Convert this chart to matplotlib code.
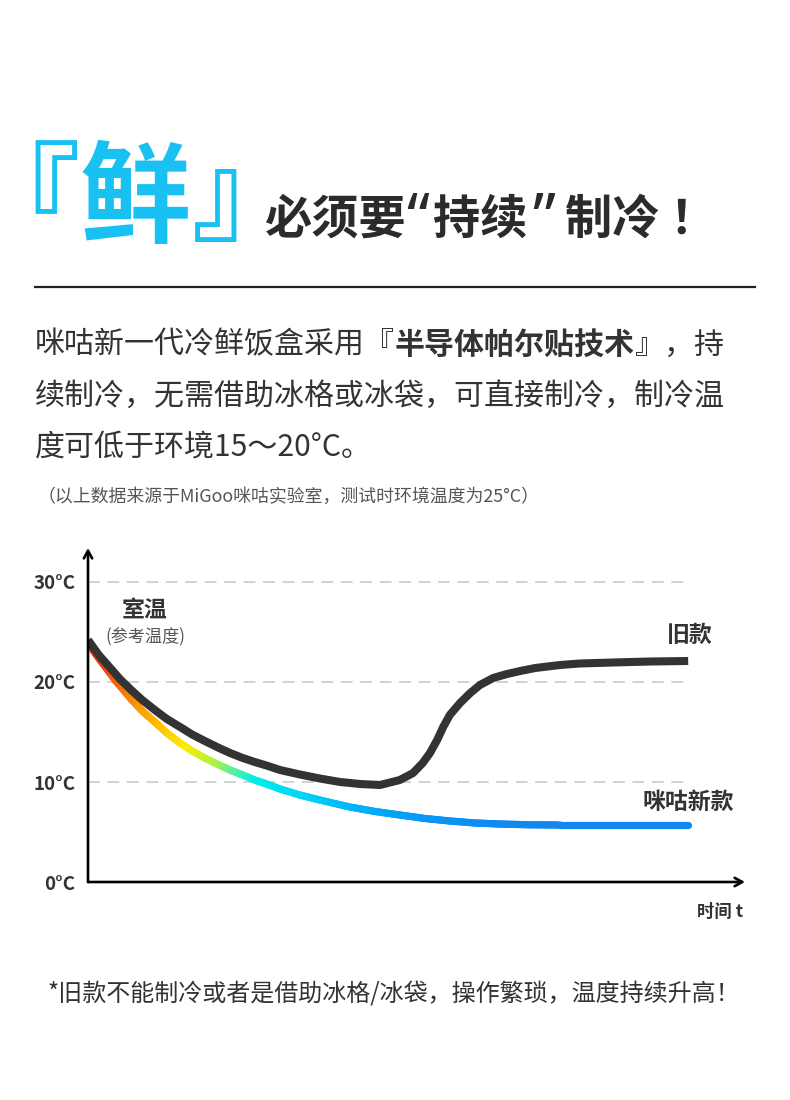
import numpy as np
import matplotlib
matplotlib.use("Agg")
import matplotlib.pyplot as plt
from matplotlib.collections import LineCollection
from matplotlib.colors import LinearSegmentedColormap, Normalize

plt.rcParams['font.family'] = ['Noto Sans CJK SC', 'DejaVu Sans']
plt.rcParams['lines.scale_dashes'] = False

# data (time in arbitrary units, temperature in °C)
time_old = [0, 1.8, 3.7, 5.3, 7.0, 9.0, 11.1, 13.1, 15.3, 17.3, 19.4, 21.6, 23.6, 25.7,
            27.7, 29.9, 31.9, 35.2, 38.5, 41.9, 45.2, 48.5, 51.8, 54.0, 55.6, 56.8,
            58.0, 59.0, 60.1, 61.8, 63.5, 65.1, 67.3, 69.6, 71.8, 74.3, 78.4, 81.7,
            87.2, 93.4, 99.7]
temp_old = [24.2, 22.7, 21.4, 20.3, 19.3, 18.2, 17.2, 16.3, 15.5, 14.75, 14.1, 13.45, 12.9, 12.4,
            12.0, 11.6, 11.2, 10.75, 10.35, 10.0, 9.8, 9.7, 10.2, 10.9, 11.9, 12.9,
            14.2, 15.5, 16.7, 17.9, 18.9, 19.7, 20.4, 20.8, 21.1, 21.4, 21.7, 21.85,
            21.95, 22.05, 22.1]

time_new = [0, 2.0, 4.5, 7.0, 9.0, 11.1, 13.1, 15.3, 17.3, 19.4, 21.6, 23.6, 25.7, 27.7,
            29.9, 31.9, 35.2, 38.5, 43.5, 47.7, 51.8, 56.0, 60.1, 64.3, 68.4, 73.4,
            78.4, 99.7]
temp_new = [23.9, 22.2, 20.2, 18.4, 17.1, 16.0, 14.9, 13.9, 13.1, 12.4, 11.75, 11.2, 10.7, 10.2,
            9.75, 9.3, 8.7, 8.2, 7.5, 7.05, 6.7, 6.35, 6.1, 5.9, 5.8, 5.72,
            5.7, 5.7]

ytick_vals = [0, 10, 20, 30]
ytick_labels = ['0°C', '10°C', '20°C', '30°C']
grid_vals = [10, 20, 30]

W, H = 790, 1100
fig = plt.figure(figsize=(W / 100, H / 100), dpi=100)
fig.patch.set_facecolor('white')


def px(x, y):
    return x / W, 1 - y / H


# ---- header ----
cyan = '#19c1f3'
fig.text(*px(24, 203), '『', fontsize=80, fontweight='bold', color=cyan, ha='center', va='center')
fig.text(*px(135, 202), '鲜', fontsize=80, fontweight='bold', color=cyan, ha='center', va='center')
fig.text(*px(247, 200), '』', fontsize=80, fontweight='bold', color=cyan, ha='center', va='center')

# title in pieces so the curly quotes get the narrow spacing of the original
title_kw = dict(fontweight='bold', color='#2b2b2b', va='center', ha='left')
latin = ['Noto Sans', 'DejaVu Sans']
fig.text(*px(265, 220), '必须要', fontsize=34, **title_kw)
fig.text(*px(406, 222), '“', fontsize=46, family=latin, **title_kw)
fig.text(*px(433, 220), '持续', fontsize=34, **title_kw)
fig.text(*px(532, 222), '”', fontsize=46, family=latin, **title_kw)
fig.text(*px(565, 220), '制冷', fontsize=34, **title_kw)
fig.text(*px(669, 220), '！', fontsize=34, **title_kw)
fig.add_artist(plt.Line2D([35 / W, 755 / W], [1 - 287 / H] * 2, color='#222222', lw=1.6))

# ---- paragraph ----
fs_px = 30
fs = fs_px * 0.72
x0 = 35
txt = '#333333'
fig.text(*px(x0, 345), '咪咕新一代冷鲜饭盒采用『', fontsize=fs, color=txt, ha='left', va='center')
fig.text(*px(x0 + 12 * fs_px, 345), '半导体帕尔贴技术', fontsize=fs, color=txt, fontweight='bold',
         ha='left', va='center')
fig.text(*px(x0 + 20 * fs_px, 345), '』，持', fontsize=fs, color=txt, ha='left', va='center')
fig.text(*px(x0, 396), '续制冷，无需借助冰格或冰袋，可直接制冷，制冷温', fontsize=fs, color=txt,
         ha='left', va='center')
fig.text(*px(x0, 447), '度可低于环境15～20°C。', fontsize=fs, color=txt, ha='left', va='center')
fig.text(*px(38, 497), '（以上数据来源于MiGoo咪咕实验室，测试时环境温度为25°C）', fontsize=12.9,
         color='#555555', ha='left', va='center')

# ---- chart ----
ax = fig.add_axes([88 / W, 1 - 882 / H, (745 - 88) / W, (882 - 548) / H])
xmax = (745 - 88) / 6.02
ymax = (882 - 548) / 10
ax.set_xlim(0, xmax)
ax.set_ylim(0, ymax)
for s in ax.spines.values():
    s.set_visible(False)
ax.set_xticks([])
ax.set_yticks(ytick_vals)
ax.set_yticklabels(ytick_labels, fontsize=13.5, fontweight='bold', color='#333333')
ax.tick_params(axis='y', length=0, pad=9)
ax.patch.set_alpha(0)

for g in grid_vals:
    ax.plot([0, 100], [g, g], color='#d2d2d2', lw=1.4, dashes=(8.5, 5.5), zorder=1)

arrow = dict(arrowstyle='->,head_length=0.55,head_width=0.3', lw=1.9, color='black',
             shrinkA=0, shrinkB=0)
ax.annotate('', xy=(0, ymax), xytext=(0, 0), arrowprops=arrow, annotation_clip=False, zorder=5)
ax.annotate('', xy=(xmax, 0), xytext=(0, 0), arrowprops=arrow, annotation_clip=False, zorder=5)

# gradient line for the new model, coloured by temperature
cmap = LinearSegmentedColormap.from_list('temp', [
    (0.00, '#1088f0'),
    (0.06, '#00a6f8'),
    (0.16, '#00d8f6'),
    (0.24, '#00eeea'),
    (0.29, '#5ff09a'),
    (0.34, '#b9f03c'),
    (0.42, '#fdee00'),
    (0.56, '#ffb400'),
    (0.70, '#f78000'),
    (0.84, '#f04a10'),
    (1.00, '#e01e1a'),
])
norm = Normalize(5.7, 24.0)
xs, ys = [], []
for i in range(len(time_new) - 1):
    t = np.linspace(0, 1, 12, endpoint=False)
    xs.extend(time_new[i] + (time_new[i + 1] - time_new[i]) * t)
    ys.extend(temp_new[i] + (temp_new[i + 1] - temp_new[i]) * t)
xs.append(time_new[-1])
ys.append(temp_new[-1])
pts = np.column_stack([xs, ys]).reshape(-1, 1, 2)
segs = np.concatenate([pts[:-1], pts[1:]], axis=1)
mid = (np.array(ys[:-1]) + np.array(ys[1:])) / 2
lc = LineCollection(segs, colors=cmap(norm(mid)), linewidths=5.2, capstyle='round', zorder=3)
ax.add_collection(lc)

ax.plot(time_old, temp_old, color='#333333', lw=5.8, solid_capstyle='butt',
        solid_joinstyle='round', zorder=4)

# chart annotations
fig.text(*px(145, 611), '室温', fontsize=16.5, fontweight='bold', color='#333333', ha='center', va='center')
fig.text(*px(145, 637), '(参考温度)', fontsize=12.3, color='#555555', ha='center', va='center')
fig.text(*px(690, 635), '旧款', fontsize=16.5, fontweight='bold', color='#333333', ha='center', va='center')
fig.text(*px(688, 802), '咪咕新款', fontsize=16.5, fontweight='bold', color='#333333', ha='center', va='center')
fig.text(*px(720, 912), '时间 t', fontsize=12.5, fontweight='bold', color='#333333', ha='center', va='center')

# footnote
fig.text(*px(394, 995), '*旧款不能制冷或者是借助冰格/冰袋，操作繁琐，温度持续升高！', fontsize=17.3,
         color='#333333', ha='center', va='center')

fig.savefig('out.png', dpi=100, facecolor='white')
